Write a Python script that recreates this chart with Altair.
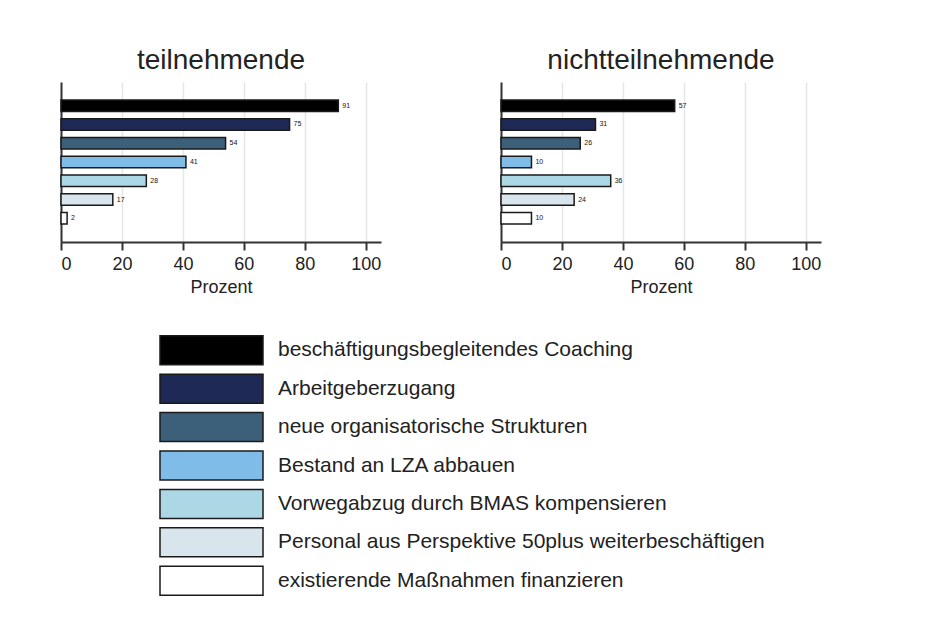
import altair as alt
import pandas as pd

categories = [
    "beschäftigungsbegleitendes Coaching",
    "Arbeitgeberzugang",
    "neue organisatorische Strukturen",
    "Bestand an LZA abbauen",
    "Vorwegabzug durch BMAS kompensieren",
    "Personal aus Perspektive 50plus weiterbeschäftigen",
    "existierende Maßnahmen finanzieren",
]
teilnehmende = [91, 75, 54, 41, 28, 17, 2]
nichtteilnehmende = [57, 31, 26, 10, 36, 24, 10]
colors = ["#000000", "#1e2a55", "#3c6079", "#80bce8", "#acd8e6", "#d9e5ec", "#ffffff"]
x_ticks = [0, 20, 40, 60, 80, 100]

FONT = "Liberation Sans"
color_scale = alt.Scale(domain=categories, range=colors)


def panel(values, title):
    df = pd.DataFrame({"cat": categories, "val": values})
    y = alt.Y(
        "cat:N",
        sort=categories,
        scale=alt.Scale(paddingInner=0.39, paddingOuter=0.96),
        axis=alt.Axis(labels=False, ticks=False, title=None, domain=True,
                      domainColor="#333333", domainWidth=2, grid=False),
    )
    x = alt.X(
        "val:Q",
        scale=alt.Scale(domain=[0, 105], nice=False),
        axis=alt.Axis(values=x_ticks, title="Prozent", grid=True,
                      gridColor="#e6e6e6", gridWidth=1.5,
                      domainColor="#333333", domainWidth=2,
                      tickColor="#333333", tickWidth=2, tickSize=8,
                      labelFontSize=18, labelColor="#222222", labelPadding=5,
                      labelFont=FONT, titleFont=FONT, titleFontSize=18,
                      titleFontWeight="normal", titleColor="#222222",
                      titlePadding=5),
    )
    base = alt.Chart(df).encode(y=y, x=x)
    bars = base.mark_bar(stroke="#1a1a1a", strokeWidth=1.5).encode(
        color=alt.Color("cat:N", scale=color_scale, legend=None)
    )
    labels = base.mark_text(align="left", baseline="middle", dx=4,
                            fontSize=7, font=FONT, color="#111111").encode(
        text="val:Q"
    )
    return alt.layer(bars, labels).properties(
        width=320, height=160,
        title=alt.TitleParams(title, fontSize=28, font=FONT, fontWeight="normal",
                              color="#222222", offset=7),
    )


left = panel(teilnehmende, "teilnehmende")
right = panel(nichtteilnehmende, "nichtteilnehmende")

leg_df = pd.DataFrame({"cat": categories})
leg_y = alt.Y("cat:N", sort=categories, axis=None,
              scale=alt.Scale(paddingInner=0.245, paddingOuter=0.1225))
leg_rect = alt.Chart(leg_df).mark_rect(stroke="#1a1a1a", strokeWidth=1.5).encode(
    y=leg_y, x=alt.value(99), x2=alt.value(202),
    color=alt.Color("cat:N", scale=color_scale, legend=None),
)
leg_text = alt.Chart(leg_df).mark_text(align="left", baseline="middle", fontSize=21,
                                       font=FONT, color="#222222").encode(
    y=leg_y, x=alt.value(217), text="cat:N"
)
legend = alt.layer(leg_rect, leg_text).properties(width=560, height=269)

top = alt.hconcat(left, right, spacing=119)
chart = alt.vconcat(top, legend, spacing=35).properties(
    padding={"left": 52, "top": 39, "right": 5, "bottom": 5},
    background="white",
).configure(font=FONT).configure_view(strokeWidth=0, stroke=None)

chart.save("out.html", embed_options={"renderer": "svg", "actions": False})
